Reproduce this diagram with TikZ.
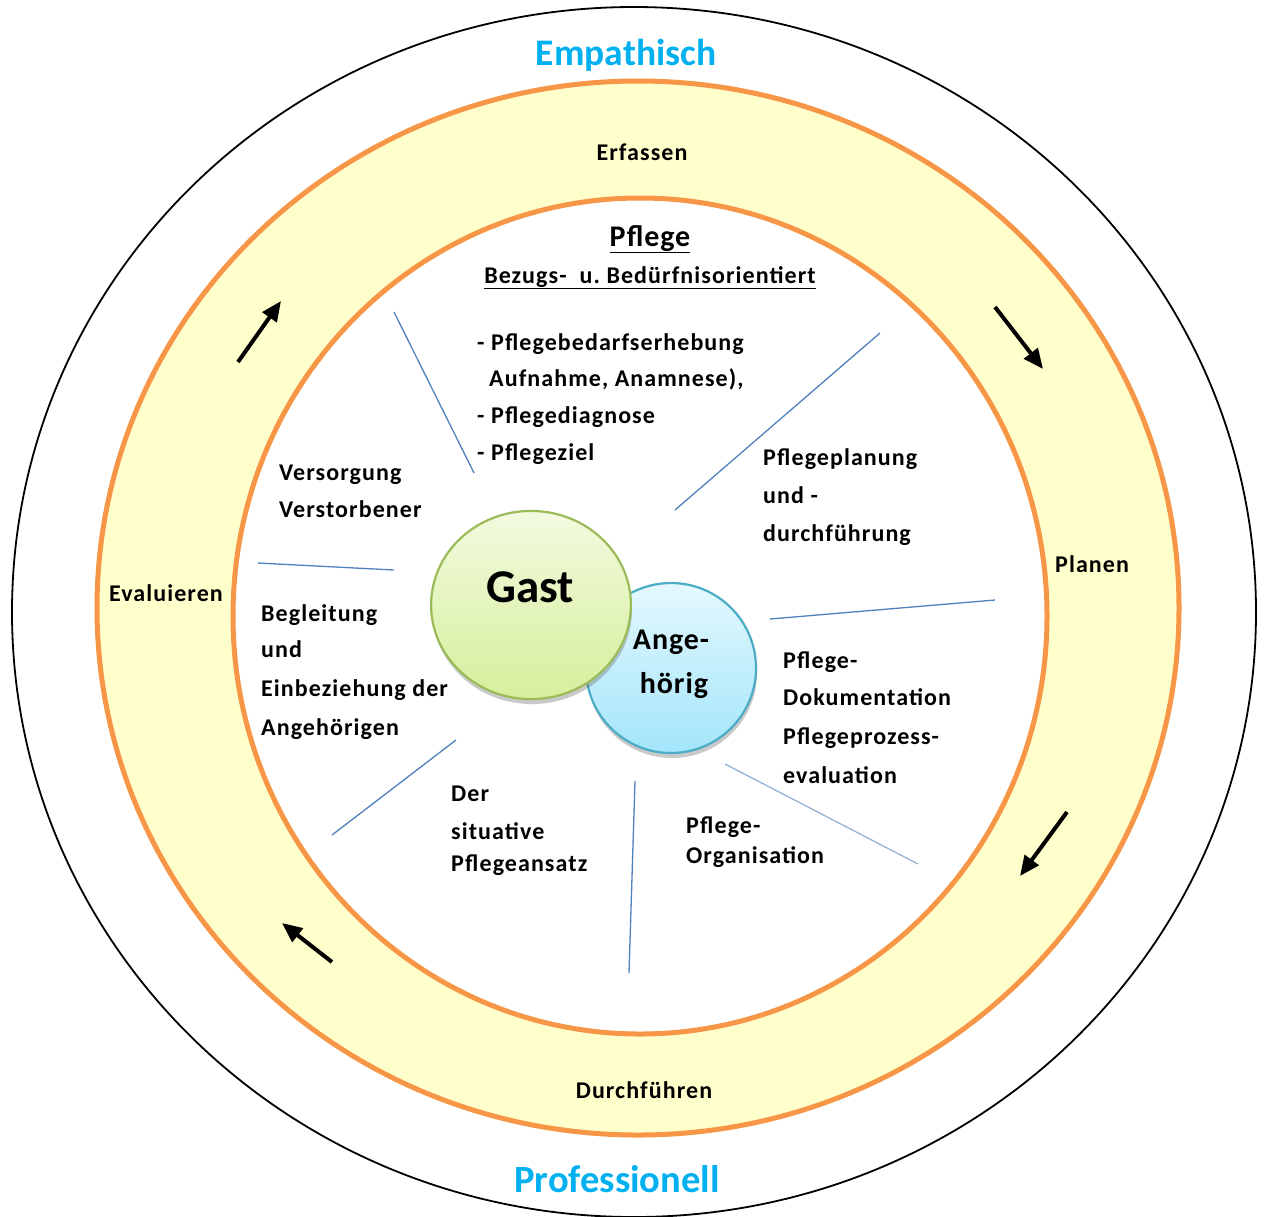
\documentclass[tikz,border=0pt]{standalone}
\usepackage{fontspec}
\setmainfont{Carlito}
\newfontfamily\lblfont{Carlito}[LetterSpace=4.5]
\newfontfamily\bigfont{Carlito}[LetterSpace=3]
\usetikzlibrary{arrows.meta,shadows}
\definecolor{ringor}{HTML}{F79646}
\definecolor{ringfill}{HTML}{FFFFCC}
\definecolor{linebl}{HTML}{4F81BD}
\definecolor{linelt}{HTML}{95B3D7}
\definecolor{cyantxt}{HTML}{00B0F0}
\definecolor{gastborder}{HTML}{9BBB59}
\definecolor{gasttop}{HTML}{F2FADF}
\definecolor{gastbot}{HTML}{D6EF9C}
\definecolor{angborder}{HTML}{4BACC6}
\definecolor{angtop}{HTML}{E4F8FE}
\definecolor{angbot}{HTML}{A3E5FA}
\begin{document}
\begin{tikzpicture}[x=1pt,y=-1pt,
  lbl/.style={font=\lblfont\fontsize{24}{28}\selectfont\bfseries, inner sep=0pt, anchor=base west},
  clbl/.style={lbl, anchor=base},
  bigcyan/.style={font=\fontsize{37.5}{44}\selectfont\bfseries, text=cyantxt, inner sep=0pt, anchor=base},
  circtxt/.style={font=\bigfont\fontsize{30}{36}\selectfont\bfseries, inner sep=0pt, anchor=base},
  spoke/.style={draw=linebl, line width=1.3pt},
  spokelt/.style={draw=linelt, line width=1.3pt},
  flow/.style={draw=black, line width=4pt, -{Triangle[length=20pt,width=17pt]}},
  ring/.style={draw=ringor, line width=5pt}]
\useasboundingbox (0,0) rectangle (1265,1216);
\fill[white] (0,0) rectangle (1265,1216);
% outer black ellipse
\draw[line width=1.8pt] (634,612) ellipse [x radius=622pt, y radius=605pt];
% orange ring
\filldraw[ring, fill=ringfill] (638,608) ellipse [x radius=541pt, y radius=527pt];
\filldraw[ring, fill=white] (640,616) ellipse [x radius=407pt, y radius=418pt];

% outer labels
\node[bigcyan] (emp) at (626,65) {Empathisch};
\node[bigcyan, font=\fontsize{38.5}{44}\selectfont\bfseries] (prof) at (617,1192) {Professionell};

% ring labels
\node[clbl] (erf) at (642,160) {Erfassen};
\node[lbl] (plan) at (1055,572) {Planen};
\node[lbl] (eval) at (109,601) {Evaluieren};
\node[clbl] (durch) at (644,1098) {Durchführen};

% ring arrows
\coordinate (a1s) at (238,362); \coordinate (a1e) at (281,301);
\coordinate (a2s) at (995,307); \coordinate (a2e) at (1043,369);
\coordinate (a3s) at (1067,812); \coordinate (a3e) at (1020,876);
\coordinate (a4s) at (332,962); \coordinate (a4e) at (282,923);
\draw[flow] (a1s) -- (a1e);
\draw[flow] (a2s) -- (a2e);
\draw[flow] (a3s) -- (a3e);
\draw[flow] (a4s) -- (a4e);

% title
\node[clbl, font=\bigfont\fontsize{30}{34}\selectfont\bfseries] (pfl) at (650,246) {\underline{Pflege}};
\node[clbl] (bez) at (650,283) {\underline{Bezugs-\ \ u.\ Bedürfnisorientiert}};

% list
\node[lbl] (l1) at (477,350) {- Pflegebedarfserhebung};
\node[lbl] (l2) at (489,386) {Aufnahme, Anamnese),};
\node[lbl] (l3) at (477,423) {- Pflegediagnose};
\begin{scope}
\clip (400,430) rectangle (800,464);
\node[lbl] (l4) at (477,460) {- Pflegeziel};
\end{scope}

% spokes
\coordinate (s1a) at (394,312); \coordinate (s1b) at (474,473);
\coordinate (s2a) at (880,333); \coordinate (s2b) at (675,510);
\coordinate (s3a) at (258,563); \coordinate (s3b) at (394,570);
\coordinate (s4a) at (770,619); \coordinate (s4b) at (995,600);
\coordinate (s5a) at (456,740); \coordinate (s5b) at (332,835);
\coordinate (s6a) at (635,781); \coordinate (s6b) at (629,973);
\coordinate (s7a) at (725,764); \coordinate (s7b) at (918,864);
\draw[spoke] (s1a) -- (s1b);
\draw[spoke] (s2a) -- (s2b);
\draw[spoke] (s3a) -- (s3b);
\draw[spoke] (s4a) -- (s4b);
\draw[spoke] (s5a) -- (s5b);
\draw[spoke] (s6a) -- (s6b);
\draw[spokelt] (s7a) -- (s7b);

% sector texts
\node[lbl] (pp1) at (763,465) {Pflegeplanung};
\node[lbl] (pp2) at (763,503) {und -};
\node[lbl] (pp3) at (763,541) {durchführung};

\node[lbl] (vs1) at (279,480) {Versorgung};
\node[lbl] (vs2) at (279,517) {Verstorbener};

\node[lbl] (bg1) at (261,621) {Begleitung};
\node[lbl] (bg2) at (261,657) {und};
\node[lbl] (bg3) at (261,696) {Einbeziehung\ der};
\node[lbl] (bg4) at (261,735) {Angehörigen};

\node[lbl] (sp1) at (451,801) {Der};
\node[lbl] (sp2) at (451,839) {situative};
\node[lbl] (sp3) at (451,871) {Pflegeansatz};

\node[lbl] (po1) at (686,833) {Pflege-};
\node[lbl] (po2) at (686,863) {Organisation};

\node[lbl] (pd1) at (783,668) {Pflege-};
\node[lbl] (pd2) at (783,705) {Dokumentation};
\node[lbl] (pd3) at (783,744) {Pflegeprozess-};
\node[lbl] (pd4) at (783,783) {evaluation};

% center circles
\node[draw=angborder, line width=2.2pt, circle, minimum size=170pt, inner sep=0pt,
      top color=angtop, bottom color=angbot,
      drop shadow={shadow xshift=1pt, shadow yshift=-5pt, opacity=0.35, fill=black!60}] (ang) at (671,668) {};
\node[circtxt] (ang1) at (671,649) {Ange-};
\node[circtxt] (ang2) at (674,693) {hörig};
\node[draw=gastborder, line width=2.2pt, circle, minimum size=194pt, inner sep=0pt, xscale=1.03, yscale=0.97,
      top color=gasttop, bottom color=gastbot,
      drop shadow={shadow xshift=1pt, shadow yshift=-5pt, opacity=0.35, fill=black!60}] (gast) at (531,605) {};
\node[font=\fontsize{47}{52}\selectfont\bfseries, inner sep=0pt, anchor=base] (gastt) at (530,602) {Gast};
\end{tikzpicture}
\end{document}
